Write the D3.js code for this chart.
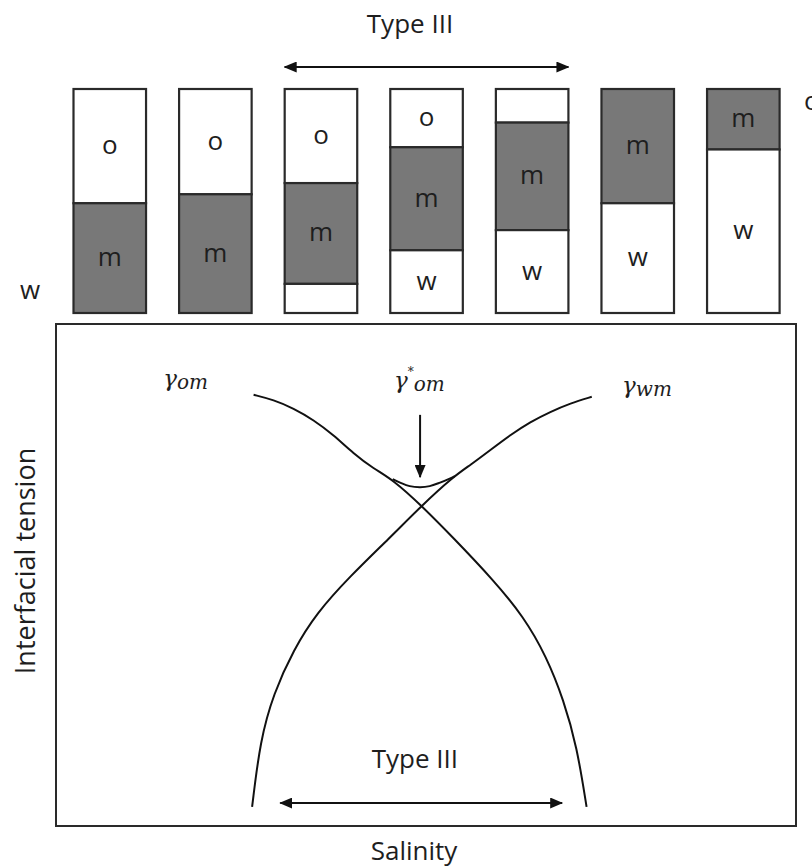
<!DOCTYPE html>
<html>
<head>
<meta charset="utf-8">
<script src="https://cdn.jsdelivr.net/npm/d3@7"></script>
<style>
  html, body { margin: 0; padding: 0; background: #fff; }
  text { font-family: "Open Sans", "Noto Sans", sans-serif; fill: #1e1e1e; }
  .greek { font-family: "DejaVu Serif", serif; font-style: italic; }
</style>
</head>
<body>
<svg id="chart" width="812" height="867"></svg>
<script>
// Phase volume fractions in each tube, top to bottom: oil, microemulsion, water
const tubes      = [1, 2, 3, 4, 5, 6, 7];
const oilFrac    = [0.51, 0.47, 0.42, 0.26, 0.15, 0.00, 0.00];
const microFrac  = [0.49, 0.53, 0.45, 0.46, 0.48, 0.51, 0.27];
const waterFrac  = [0.00, 0.00, 0.13, 0.28, 0.37, 0.49, 0.73];
const phaseNames = ["o", "m", "w"];
const phaseFill  = ["#ffffff", "#787878", "#ffffff"];
const typeIIITubes = [3, 5];

// Interfacial tension against salinity (arbitrary units)
const omSalinity = [26.7, 29.4, 32.1, 34.8, 37.5, 40.2, 42.9, 45.6, 49.4, 53.7, 59.1, 63.2, 66.3, 68.6, 70.4, 71.7];
const omTension  = [85.9, 84.9, 83.2, 80.9, 77.9, 74.2, 71.2, 68.9, 63.8, 57.4, 49.0, 41.7, 33.7, 25.1, 15.8, 3.8];
const wmSalinity = [26.5, 27.6, 29.4, 32.1, 35.2, 39.7, 45.1, 49.4, 53.7, 56.0, 58.7, 61.4, 64.1, 66.8, 69.5, 72.4];
const wmTension  = [3.8, 17.1, 26.4, 35.1, 42.4, 49.7, 57.4, 63.8, 69.6, 71.9, 74.9, 77.9, 80.5, 82.5, 84.2, 85.5];
// Lowest tension envelope inside the three-phase region
const minSalinity = [45.5, 46.5, 47.8, 49.2, 50.5, 51.9, 53.2, 53.9];
const minTension  = [69.1, 68.4, 67.7, 67.5, 67.7, 68.4, 69.2, 69.7];
const typeIIIRange = [30.3, 68.4];
const optimalSalinity = 49.2;
const optimalArrow = [81.9, 69.5];

const svg = d3.select("#chart");

// Arrow head marker
const defs = svg.append("defs");
defs.append("marker")
  .attr("id", "head")
  .attr("viewBox", "0 0 13 11")
  .attr("refX", 12).attr("refY", 5.5)
  .attr("markerWidth", 13).attr("markerHeight", 11)
  .attr("markerUnits", "userSpaceOnUse")
  .attr("orient", "auto-start-reverse")
  .append("path").attr("d", "M0,0 L13,5.5 L0,11 Z").attr("fill", "#111");

// ---------- Tubes ----------
const xTube = d3.scaleBand().domain(tubes).range([73.5, 779.6]).paddingInner(0.313).paddingOuter(0);
const yTube = d3.scaleLinear().domain([0, 1]).range([89, 313]);

const tubeG = svg.append("g");
tubes.forEach((t, i) => {
  const fr = [oilFrac[i], microFrac[i], waterFrac[i]];
  let acc = 0;
  const g = tubeG.append("g");
  fr.forEach((f, k) => {
    if (f <= 0) return;
    const y0 = yTube(acc), y1 = yTube(acc + f);
    g.append("rect")
      .attr("x", xTube(t)).attr("y", y0)
      .attr("width", xTube.bandwidth()).attr("height", y1 - y0)
      .attr("fill", phaseFill[k])
      .attr("stroke", "#2a2a2a").attr("stroke-width", 2.2);
    if (f >= 0.2) {
      g.append("text")
        .attr("x", xTube(t) + xTube.bandwidth() / 2)
        .attr("y", (y0 + y1) / 2 + 8)
        .attr("text-anchor", "middle")
        .attr("font-size", 26)
        .text(phaseNames[k]);
    }
    acc += f;
  });
});

// Phase labels at the sides of the tube row
svg.append("text").attr("x", 30).attr("y", 299).attr("text-anchor", "middle")
  .attr("font-size", 26).text("w");
svg.append("text").attr("x", 804).attr("y", 110).attr("text-anchor", "start")
  .attr("font-size", 26).text("o");

// Type III span across the tubes
svg.append("line")
  .attr("x1", xTube(typeIIITubes[0])).attr("x2", xTube(typeIIITubes[1]) + xTube.bandwidth())
  .attr("y1", 67).attr("y2", 67)
  .attr("stroke", "#111").attr("stroke-width", 2)
  .attr("marker-start", "url(#head)").attr("marker-end", "url(#head)");
svg.append("text").attr("x", 410).attr("y", 33).attr("text-anchor", "middle")
  .attr("font-size", 26).text("Type III");

// ---------- Interfacial tension plot ----------
const x = d3.scaleLinear().domain([0, 100]).range([56, 796]);
const y = d3.scaleLinear().domain([0, 100]).range([826, 324]);

svg.append("rect")
  .attr("x", x(0)).attr("y", y(100))
  .attr("width", x(100) - x(0)).attr("height", y(0) - y(100))
  .attr("fill", "none").attr("stroke", "#2a2a2a").attr("stroke-width", 2);

const line = d3.line().x(d => x(d[0])).y(d => y(d[1])).curve(d3.curveBasis);
const zip = (a, b) => a.map((v, i) => [v, b[i]]);

svg.append("path").datum(zip(omSalinity, omTension)).attr("d", line)
  .attr("fill", "none").attr("stroke", "#111").attr("stroke-width", 2);
svg.append("path").datum(zip(wmSalinity, wmTension)).attr("d", line)
  .attr("fill", "none").attr("stroke", "#111").attr("stroke-width", 2);
svg.append("path").datum(zip(minSalinity, minTension))
  .attr("d", d3.line().x(d => x(d[0])).y(d => y(d[1])).curve(d3.curveCatmullRom))
  .attr("fill", "none").attr("stroke", "#111").attr("stroke-width", 2);

// Arrow pointing to the tension minimum
svg.append("line")
  .attr("x1", x(optimalSalinity)).attr("x2", x(optimalSalinity))
  .attr("y1", y(optimalArrow[0])).attr("y2", y(optimalArrow[1]))
  .attr("stroke", "#111").attr("stroke-width", 2)
  .attr("marker-end", "url(#head)");

// Curve labels
const gOm = svg.append("text").attr("class", "greek").attr("x", x(14.5)).attr("y", y(87.6)).attr("font-size", 23);
gOm.append("tspan").text("γ");
gOm.append("tspan").attr("font-size", 20).attr("dy", 3).text("om");

const gWm = svg.append("text").attr("class", "greek").attr("x", x(76.5)).attr("y", y(86.3)).attr("font-size", 23);
gWm.append("tspan").text("γ");
gWm.append("tspan").attr("font-size", 20).attr("dy", 3).text("wm");

const gStar = svg.append("text").attr("class", "greek").attr("x", x(optimalSalinity) - 26).attr("y", y(87.3)).attr("font-size", 23);
gStar.append("tspan").text("γ");
gStar.append("tspan").attr("font-size", 12).attr("dy", -12).text("*");
gStar.append("tspan").attr("font-size", 20).attr("dy", 15).text("om");

// Type III span on the salinity axis
svg.append("line")
  .attr("x1", x(typeIIIRange[0])).attr("x2", x(typeIIIRange[1]))
  .attr("y1", 803).attr("y2", 803)
  .attr("stroke", "#111").attr("stroke-width", 2)
  .attr("marker-start", "url(#head)").attr("marker-end", "url(#head)");
svg.append("text").attr("x", x(48.5)).attr("y", 768).attr("text-anchor", "middle")
  .attr("font-size", 26).text("Type III");

// Axis titles
svg.append("text").attr("x", 414).attr("y", 860).attr("text-anchor", "middle")
  .attr("font-size", 26).text("Salinity");
svg.append("text").attr("transform", "translate(35,561) rotate(-90)")
  .attr("text-anchor", "middle").attr("font-size", 27).text("Interfacial tension");
</script>
</body>
</html>
